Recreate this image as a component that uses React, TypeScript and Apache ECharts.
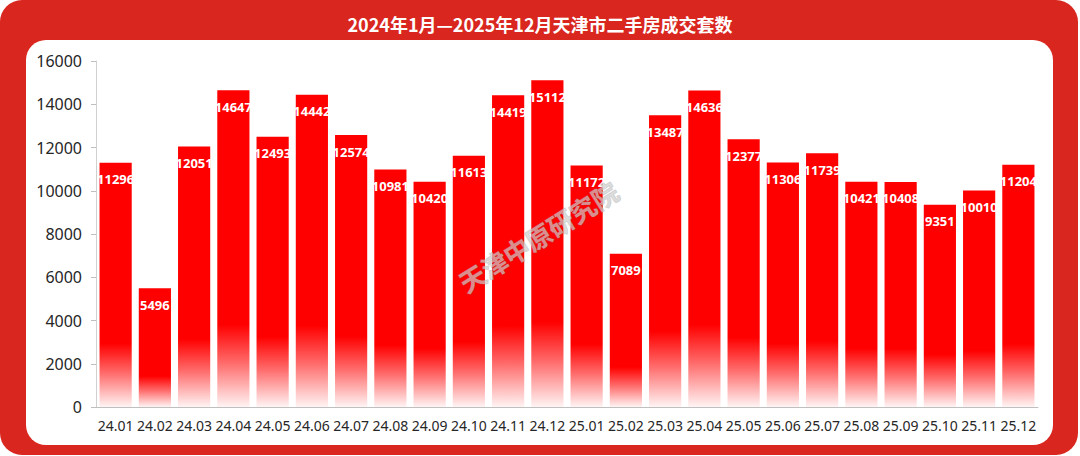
import React, { useEffect, useRef } from "react";
import * as echarts from "echarts";

const titleText = "2024年1月—2025年12月天津市二手房成交套数";
const watermark = "天津中原研究院";
const months = [
  "24.01", "24.02", "24.03", "24.04", "24.05", "24.06", "24.07", "24.08", "24.09", "24.10", "24.11", "24.12",
  "25.01", "25.02", "25.03", "25.04", "25.05", "25.06", "25.07", "25.08", "25.09", "25.10", "25.11", "25.12",
];
const deals = [
  11296, 5496, 12051, 14647, 12493, 14442, 12574, 10981, 10420, 11613, 14419, 15112,
  11172, 7089, 13487, 14636, 12377, 11306, 11739, 10421, 10408, 9351, 10010, 11204,
];
const yMin = 0;
const yMax = 16000;
const yStep = 2000;

export default function App() {
  const ref = useRef<HTMLDivElement>(null);
  useEffect(() => {
    if (!ref.current) return;
    const chart = echarts.init(ref.current, null, { renderer: "svg" });
    const barGradient = new echarts.graphic.LinearGradient(0, 0, 0, 1, [
      { offset: 0, color: "#ff0000" },
      { offset: 0.74, color: "#ff0000" },
      { offset: 0.86, color: "#ff6a6a" },
      { offset: 1, color: "#fff4f4" },
    ]);
    chart.setOption({
      animation: false,
      backgroundColor: "#ffffff",
      title: {
        text: titleText,
        left: "center",
        top: 10,
        textStyle: {
          color: "#ffffff",
          fontSize: 18,
          fontWeight: "bold",
          fontFamily: "Noto Sans CJK SC",
        },
      },
      graphic: [
        {
          type: "rect",
          z: -100,
          silent: true,
          shape: { x: 0, y: 0, width: 1078, height: 455, r: 22 },
          style: { fill: "#d9261f" },
        },
        {
          type: "rect",
          z: -99,
          silent: true,
          shape: { x: 26, y: 40, width: 1027, height: 405, r: 20 },
          style: { fill: "#ffffff" },
        },
        {
          type: "text",
          z: 100,
          silent: true,
          x: 538,
          y: 236,
          rotation: (32 * Math.PI) / 180,
          style: {
            text: watermark,
            fontSize: 26,
            fontWeight: "bold",
            fontFamily: "Noto Sans CJK SC",
            fill: "rgba(205,205,205,0.7)",
            stroke: "rgba(140,140,140,0.35)",
            lineWidth: 1,
            align: "center",
            verticalAlign: "middle",
          },
        },
      ],
      grid: { left: 96, right: 42, top: 61, bottom: 49, containLabel: false },
      xAxis: {
        type: "category",
        data: months,
        axisLine: { show: true, lineStyle: { color: "#bfbfbf", width: 1 } },
        axisTick: { show: false },
        axisLabel: {
          interval: 0,
          color: "#262626",
          fontSize: 14,
          fontFamily: "Noto Sans",
          margin: 11,
        },
      },
      yAxis: {
        type: "value",
        min: yMin,
        max: yMax,
        interval: yStep,
        splitLine: { show: false },
        axisLine: { show: true, lineStyle: { color: "#d0d0d0", width: 1 } },
        axisTick: { show: true, length: 5, lineStyle: { color: "#bfbfbf" } },
        axisLabel: {
          color: "#262626",
          fontSize: 16,
          fontFamily: "Noto Sans",
          margin: 14,
          formatter: (v: number) => String(v),
        },
      },
      series: [
        {
          type: "bar",
          data: deals,
          barCategoryGap: "18%",
          itemStyle: { color: barGradient },
          label: {
            show: true,
            position: "insideTop",
            distance: 10,
            color: "#ffffff",
            fontSize: 13,
            fontWeight: "bold",
            fontFamily: "Noto Sans",
          },
        },
      ],
    });
    return () => chart.dispose();
  }, []);
  return (
    <div
      ref={ref}
      style={{ position: "fixed", left: 0, top: 0, width: 1080, height: 456 }}
    />
  );
}
